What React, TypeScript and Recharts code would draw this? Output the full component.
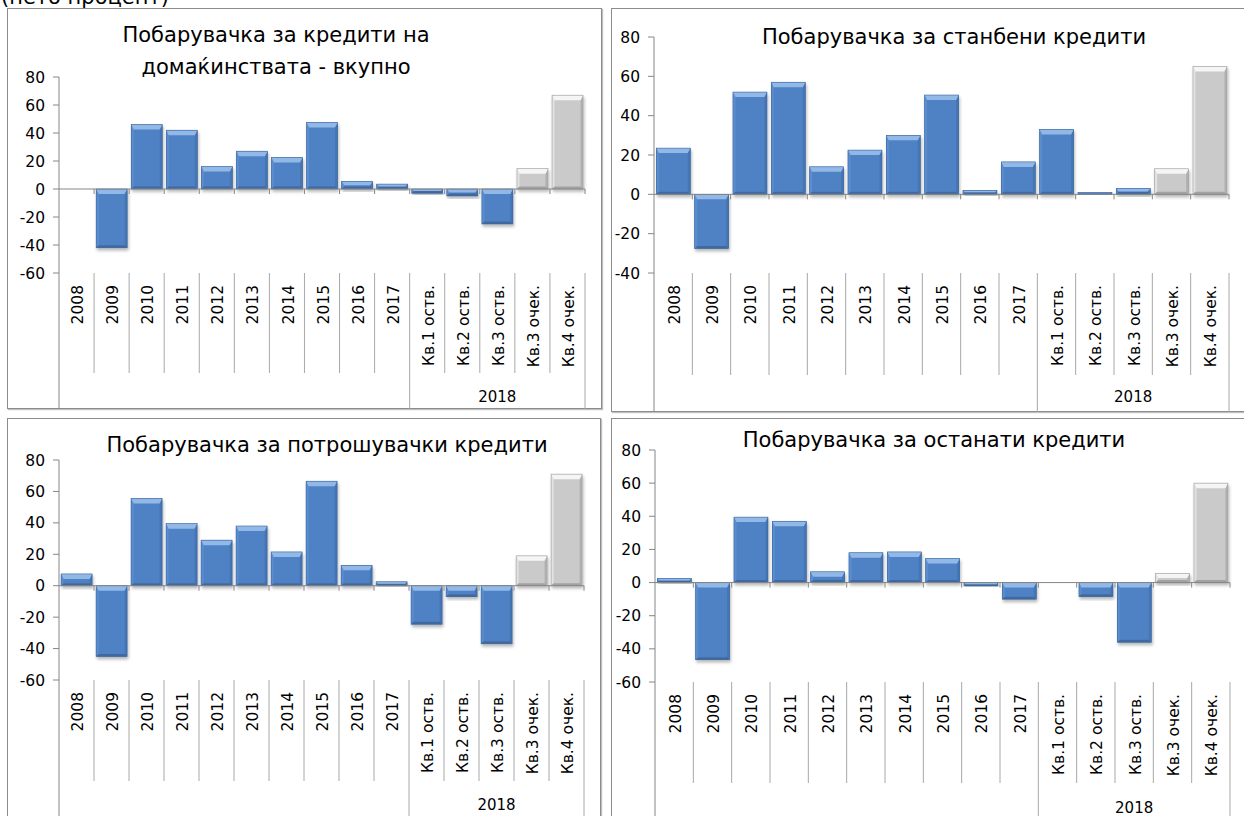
import { BarChart, Bar, XAxis, YAxis, ReferenceLine } from "recharts";

const FONT = '"DejaVu Sans", Verdana, sans-serif';
const AXIS = "#868686";
const DIVIDER = "#a8a8a8";

// categories shared by the four panels
const categories = [
  "2008", "2009", "2010", "2011", "2012", "2013", "2014", "2015", "2016", "2017",
  "Кв.1 оств.", "Кв.2 оств.", "Кв.3 оств.", "Кв.3 очек.", "Кв.4 очек.",
];
const groupName = "2018";
const groupStart = 10;

const totalTitle = ["Побарувачка за кредити на", "домаќинствата - вкупно"];
const housingTitle = ["Побарувачка за станбени кредити"];
const consumerTitle = ["Побарувачка за потрошувачки кредити"];
const otherTitle = ["Побарувачка за останати кредити"];

const totalValues = [0, -42, 46, 42, 16, 27, 22.5, 47.5, 5.5, 3.5, -3, -5, -25, 14.5, 67];
const housingValues = [23.5, -27.5, 52, 57, 14, 22.5, 30, 50.5, 2, 16.5, 33, 1, 3, 13, 65];
const consumerValues = [7.5, -45, 55.5, 39.5, 29, 38, 21.5, 66.5, 13, 2.5, -24.5, -7, -37, 19, 71];
const otherValues = [2.5, -46.5, 39.5, 37, 6.5, 18, 18.5, 14.5, -2, -10, 0, -8.5, -36, 5.5, 60];

const ticks60 = [-60, -40, -20, 0, 20, 40, 60, 80];
const ticks40 = [-40, -20, 0, 20, 40, 60, 80];

const BLUE = { body: "#4f82c4", top: "#92b8e8", left: "#5a8dcf", right: "#4574b3", bottom: "#41699f", edge: "#3a659c" };
const GRAY = { body: "#cacaca", top: "#f5f5f5", left: "#e2e2e2", right: "#b0b0b0", bottom: "#a2a2a2", edge: "#9e9e9e" };

type Box = { left: number; top: number; right: number; bottom: number };

function BevelBar(props: any) {
  const { x, y, width, height, payload, filterId } = props;
  if (!width || !height || Math.abs(height) < 0.6) return null;
  const t = height < 0 ? y + height : y;
  const h = Math.abs(height);
  const l = x;
  const r = x + width;
  const b2 = t + h;
  const c = payload?.forecast ? GRAY : BLUE;
  const b = Math.min(5, h / 2, width / 2);
  const s = Math.min(2.5, h / 2, width / 2);
  return (
    <g filter={`url(#${filterId})`}>
      <rect x={l} y={t} width={width} height={h} fill={c.body} />
      <polygon points={`${l},${t} ${l + s},${t + b} ${l + s},${b2 - s} ${l},${b2}`} fill={c.left} />
      <polygon points={`${r},${t} ${r},${b2} ${r - s},${b2 - s} ${r - s},${t + b}`} fill={c.right} />
      <polygon points={`${l},${b2} ${l + s},${b2 - s} ${r - s},${b2 - s} ${r},${b2}`} fill={c.bottom} />
      <polygon points={`${l},${t} ${r},${t} ${r - s},${t + b} ${l + s},${t + b}`} fill={c.top} />
      <rect x={l} y={t} width={width} height={h} fill="none" stroke={c.edge} strokeWidth={0.6} />
    </g>
  );
}

function CategoryTick(props: any) {
  const { x, y, payload, index, shortLen, longLen, groupDy, band } = props;
  const half = payload?.offset || band / 2;
  const last = categories.length - 1;
  const groupCenter = groupStart + (last - groupStart) / 2;
  const leftLen = index === 0 || index === groupStart ? longLen : shortLen;
  return (
    <g>
      <line x1={x - half} y1={y} x2={x - half} y2={y + leftLen} stroke={index === 0 ? AXIS : DIVIDER} />
      {index === last && <line x1={x + half} y1={y} x2={x + half} y2={y + longLen} stroke={DIVIDER} />}
      <text
        transform={`translate(${x + 1},${y + 12}) rotate(-90)`}
        textAnchor="end"
        dy="0.36em"
        fontSize={15.5}
        fontFamily={FONT}
        fill="#000"
      >
        {payload.value}
      </text>
      {index === groupCenter && (
        <text x={x} y={y + groupDy} dy="0.36em" textAnchor="middle" fontSize={15} fontFamily={FONT} fill="#000">
          {groupName}
        </text>
      )}
    </g>
  );
}

function ZeroAxis(props: any) {
  const { x1, y1, x2 } = props;
  const n = categories.length;
  const step = (x2 - x1) / n;
  return (
    <g>
      <line x1={x1} y1={y1} x2={x2} y2={y1} stroke={AXIS} />
      {categories.map((_, i) => (
        <line key={i} x1={x1 + (i + 1) * step} y1={y1} x2={x1 + (i + 1) * step} y2={y1 + 5} stroke={AXIS} />
      ))}
    </g>
  );
}

type PanelProps = {
  id: string;
  title: string[];
  titleX: number;
  titleTop: number;
  values: number[];
  ticks: number[];
  box: Box;
  plot: Box;
  dividerLen: number;
  groupDy: number;
};

const Y_W = 40;

function Panel(p: PanelProps) {
  const data = categories.map((label, i) => ({ label, value: p.values[i], forecast: label.includes("очек.") }));
  const width = p.plot.right + 12 - p.box.left;
  const height = p.box.bottom - p.box.top;
  const margin = {
    left: p.plot.left - p.box.left - Y_W,
    top: p.plot.top - p.box.top,
    right: width - (p.plot.right - p.box.left),
    bottom: 0,
  };
  const xh = p.box.bottom - p.plot.bottom;
  const band = (p.plot.right - p.plot.left) / categories.length;
  const fid = `shadow-${p.id}`;
  return (
    <>
      <div
        style={{
          position: "absolute",
          left: p.box.left,
          top: p.box.top,
          width: p.box.right - p.box.left,
          height: p.box.bottom - p.box.top,
          border: "1px solid #8c8c8c",
          boxSizing: "border-box",
          boxShadow: "1px 1px 1px rgba(0,0,0,0.25)",
        }}
      />
      <div style={{ position: "absolute", left: p.box.left, top: p.box.top }}>
        <BarChart width={width} height={height} data={data} margin={margin} barCategoryGap="6%">
          <defs>
            <filter id={fid} x="-20%" y="-20%" width="150%" height="150%">
              <feDropShadow dx="1" dy="2.5" stdDeviation="1.5" floodColor="#000" floodOpacity="0.28" />
            </filter>
          </defs>
          <XAxis
            dataKey="label"
            interval={0}
            tickLine={false}
            axisLine={false}
            tickSize={0}
            tickMargin={0}
            height={xh}
            tick={(t: any) => (
              <CategoryTick {...t} shortLen={p.dividerLen} longLen={xh} groupDy={p.groupDy} band={band} />
            )}
          />
          <YAxis
            domain={[p.ticks[0], p.ticks[p.ticks.length - 1]]}
            ticks={p.ticks}
            interval={0}
            width={Y_W}
            tickSize={6}
            tickMargin={8}
            axisLine={{ stroke: AXIS }}
            tickLine={{ stroke: AXIS }}
            tick={{ fill: "#000", fontSize: 15.5, fontFamily: FONT }}
            allowDataOverflow
          />
          <ReferenceLine y={0} shape={(s: any) => <ZeroAxis {...s} />} />
          <Bar
            dataKey="value"
            isAnimationActive={false}
            shape={(s: any) => <BevelBar {...s} filterId={fid} />}
          />
        </BarChart>
      </div>
      <div
        style={{
          position: "absolute",
          left: p.titleX - 300,
          width: 600,
          top: p.titleTop,
          textAlign: "center",
          fontSize: 21,
          lineHeight: "32px",
          fontFamily: FONT,
          color: "#000",
          whiteSpace: "nowrap",
        }}
      >
        {p.title.map((line) => (
          <div key={line}>{line}</div>
        ))}
      </div>
    </>
  );
}

export default function App() {
  return (
    <div
      style={{
        position: "absolute",
        left: 0,
        top: 0,
        width: 1244,
        height: 816,
        overflow: "hidden",
        background: "#fff",
        fontFamily: FONT,
      }}
    >
      <div style={{ position: "absolute", left: 1, top: -15, fontSize: 21, whiteSpace: "nowrap", lineHeight: "normal" }}>
        (нето процент)
      </div>
      <Panel
        id="total"
        title={totalTitle}
        titleX={276}
        titleTop={18.7}
        values={totalValues}
        ticks={ticks60}
        box={{ left: 7, top: 8, right: 602, bottom: 409 }}
        plot={{ left: 59, top: 77, right: 585, bottom: 273 }}
        dividerLen={100}
        groupDy={124}
      />
      <Panel
        id="housing"
        title={housingTitle}
        titleX={954}
        titleTop={21.3}
        values={housingValues}
        ticks={ticks40}
        box={{ left: 611, top: 8, right: 1300, bottom: 412 }}
        plot={{ left: 654, top: 37, right: 1229, bottom: 273 }}
        dividerLen={102}
        groupDy={124}
      />
      <Panel
        id="consumer"
        title={consumerTitle}
        titleX={327}
        titleTop={428.7}
        values={consumerValues}
        ticks={ticks60}
        box={{ left: 7, top: 418, right: 601, bottom: 830 }}
        plot={{ left: 59, top: 460, right: 584, bottom: 680 }}
        dividerLen={101}
        groupDy={125}
      />
      <Panel
        id="other"
        title={otherTitle}
        titleX={934}
        titleTop={423.7}
        values={otherValues}
        ticks={ticks60}
        box={{ left: 611, top: 418, right: 1300, bottom: 830 }}
        plot={{ left: 655, top: 450, right: 1230, bottom: 682 }}
        dividerLen={101}
        groupDy={126}
      />
    </div>
  );
}
